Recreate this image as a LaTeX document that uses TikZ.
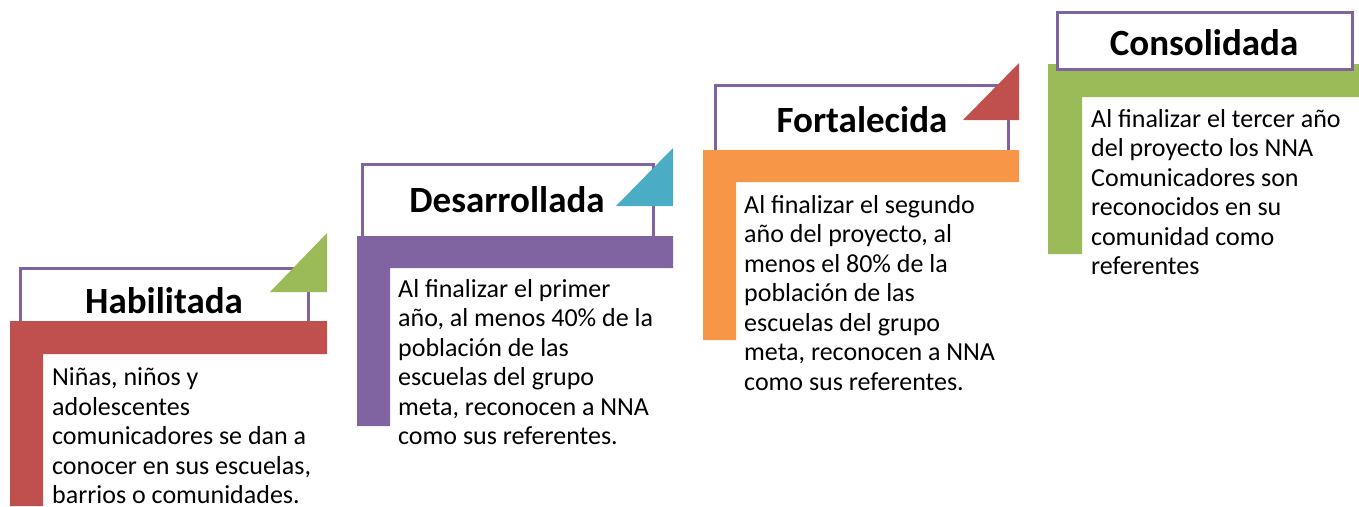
\documentclass[tikz,border=0pt]{standalone}
\usepackage{fontspec}
\setmainfont{Carlito}
\definecolor{redbar}{HTML}{C0504D}
\definecolor{purplebar}{HTML}{8064A2}
\definecolor{orangebar}{HTML}{F79646}
\definecolor{greenbar}{HTML}{9BBB59}
\definecolor{cyanbar}{HTML}{4BACC6}

\begin{document}
\begin{tikzpicture}
[x=1pt,y=-1pt,
 titlebox/.style={draw=purplebar,line width=3pt,fill=white},
 title/.style={anchor=base,inner sep=0pt,font=\fontsize{37}{44}\selectfont\bfseries},
 body/.style={anchor=north west,inner sep=0pt,align=left,font=\fontsize{26}{29.5}\selectfont}]

\useasboundingbox (0,0) rectangle (1359,506);

% Habilitada
\draw[titlebox] (20,268) rectangle (308,330);
\fill[redbar] (10,321) -- (327,321) -- (327,354) -- (43,354) -- (43,506) -- (10,506) -- cycle;
\fill[greenbar] (270,292) -- (327,292) -- (327,233) -- cycle;
\node (hab) at (164,313) [title] {Habilitada};
\node (habtxt) at (52,365) [body] {\strut Niñas, niños y\\adolescentes\\comunicadores se dan a\\conocer en sus escuelas,\\barrios o comunidades.};

% Desarrollada
\draw[titlebox] (362,164) rectangle (653,245);
\fill[purplebar] (357,236) -- (673,236) -- (673,268) -- (390,268) -- (390,426) -- (357,426) -- cycle;
\fill[cyanbar] (616,206) -- (673,206) -- (673,148) -- cycle;
\node (des) at (507,212) [title] {Desarrollada};
\node (destxt) at (398,276.5) [body] {\strut Al finalizar el primer\\año, al menos 40\% de la\\población de las\\escuelas del grupo\\meta, reconocen a NNA\\como sus referentes.};

% Fortalecida
\draw[titlebox] (715,85) rectangle (1008,160);
\fill[orangebar] (703,150) -- (1019,150) -- (1019,182) -- (736,182) -- (736,340) -- (703,340) -- cycle;
\fill[redbar] (963,120) -- (1019,120) -- (1019,63) -- cycle;
\node (fort) at (862,132) [title] {Fortalecida};
\node (forttxt) at (744,192.5) [body] {\strut Al finalizar el segundo\\año del proyecto, al\\menos el 80\% de la\\población de las\\escuelas del grupo\\meta, reconocen a NNA\\como sus referentes.};

% Consolidada
\fill[greenbar] (1048,64) -- (1359,64) -- (1359,97) -- (1082,97) -- (1082,254) -- (1048,254) -- cycle;
\draw[titlebox] (1057,12) rectangle (1352,69);
\node (cons) at (1204,55) [title] {Consolidada};
\node (constxt) at (1091,106.5) [body] {\strut Al finalizar el tercer año\\del proyecto los NNA\\Comunicadores son\\reconocidos en su\\comunidad como\\referentes};
\end{tikzpicture}
\end{document}
